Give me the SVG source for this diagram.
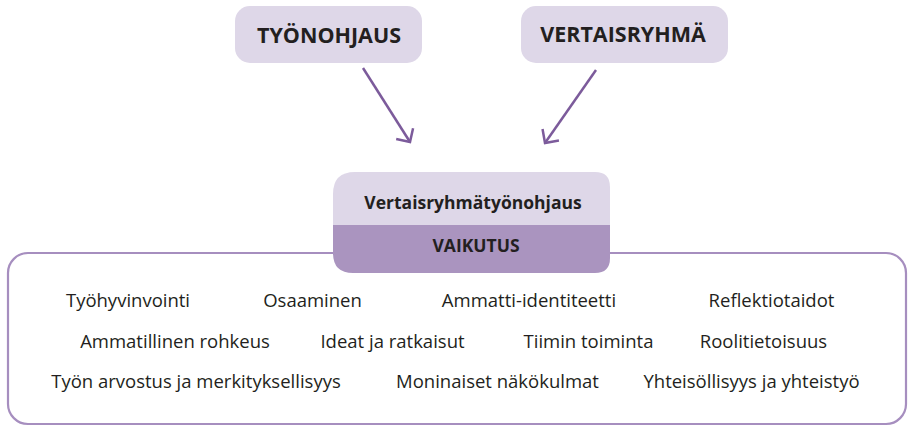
<svg xmlns="http://www.w3.org/2000/svg" width="909" height="426" viewBox="0 0 909 426">
<style>
.top{fill:#ded7e8}
.hd{font-family:"Open Sans","Noto Sans","Liberation Sans",sans-serif;font-weight:bold;fill:#231f20;text-anchor:middle}
.it{font-family:"Open Sans","Noto Sans","Liberation Sans",sans-serif;font-size:18.5px;fill:#231f20;text-anchor:middle}
.con{stroke:#7c5b9b;stroke-width:2.5;fill:none}
</style>
<defs>
<marker id="chev" markerUnits="userSpaceOnUse" viewBox="-13 -12 15 24" refX="0" refY="0" markerWidth="15" markerHeight="24" orient="auto">
<path d="M-10,-10 L0,0 L-10,10" fill="none" stroke="#7c5b9b" stroke-width="2.5"/>
</marker>
</defs>
<g id="outer">
<rect x="8" y="253" width="898" height="171" rx="20" fill="none" stroke="#a68ebf" stroke-width="2.2"/>
</g>
<g id="tyonohjaus">
<rect class="top" x="235" y="6" width="187" height="57" rx="15"/>
<text class="hd" x="329" y="43" font-size="21.5">TYÖNOHJAUS</text>
</g>
<g id="vertaisryhma">
<rect class="top" x="521" y="6" width="207" height="57" rx="15"/>
<text class="hd" x="623" y="42" font-size="21.5">VERTAISRYHMÄ</text>
</g>
<g id="connectors">
<line class="con" x1="363" y1="68" x2="410" y2="142" marker-end="url(#chev)"/>
<line class="con" x1="596" y1="70" x2="545" y2="143" marker-end="url(#chev)"/>
</g>
<g id="center">
<path class="top" d="M333,225 V194 Q333,172 355,172 H595 Q610,172 610,187 V225 Z"/>
<path fill="#aa94bf" d="M333,225 H610 V258 Q610,273 595,273 H353 Q333,273 333,253 Z"/>
<text class="hd" x="473" y="209" font-size="17.5">Vertaisryhmätyönohjaus</text>
<text class="hd" x="476" y="252" font-size="17.5">VAIKUTUS</text>
</g>
<g id="items">
<text class="it" x="128" y="307">Työhyvinvointi</text>
<text class="it" x="312.5" y="307">Osaaminen</text>
<text class="it" x="529" y="307">Ammatti-identiteetti</text>
<text class="it" x="771.5" y="307">Reflektiotaidot</text>
<text class="it" x="175" y="348">Ammatillinen rohkeus</text>
<text class="it" x="392.5" y="348">Ideat ja ratkaisut</text>
<text class="it" x="588.5" y="348">Tiimin toiminta</text>
<text class="it" x="763.5" y="348">Roolitietoisuus</text>
<text class="it" x="196" y="388">Työn arvostus ja merkityksellisyys</text>
<text class="it" x="497.5" y="388">Moninaiset näkökulmat</text>
<text class="it" x="751.5" y="388">Yhteisöllisyys ja yhteistyö</text>
</g>
</svg>
